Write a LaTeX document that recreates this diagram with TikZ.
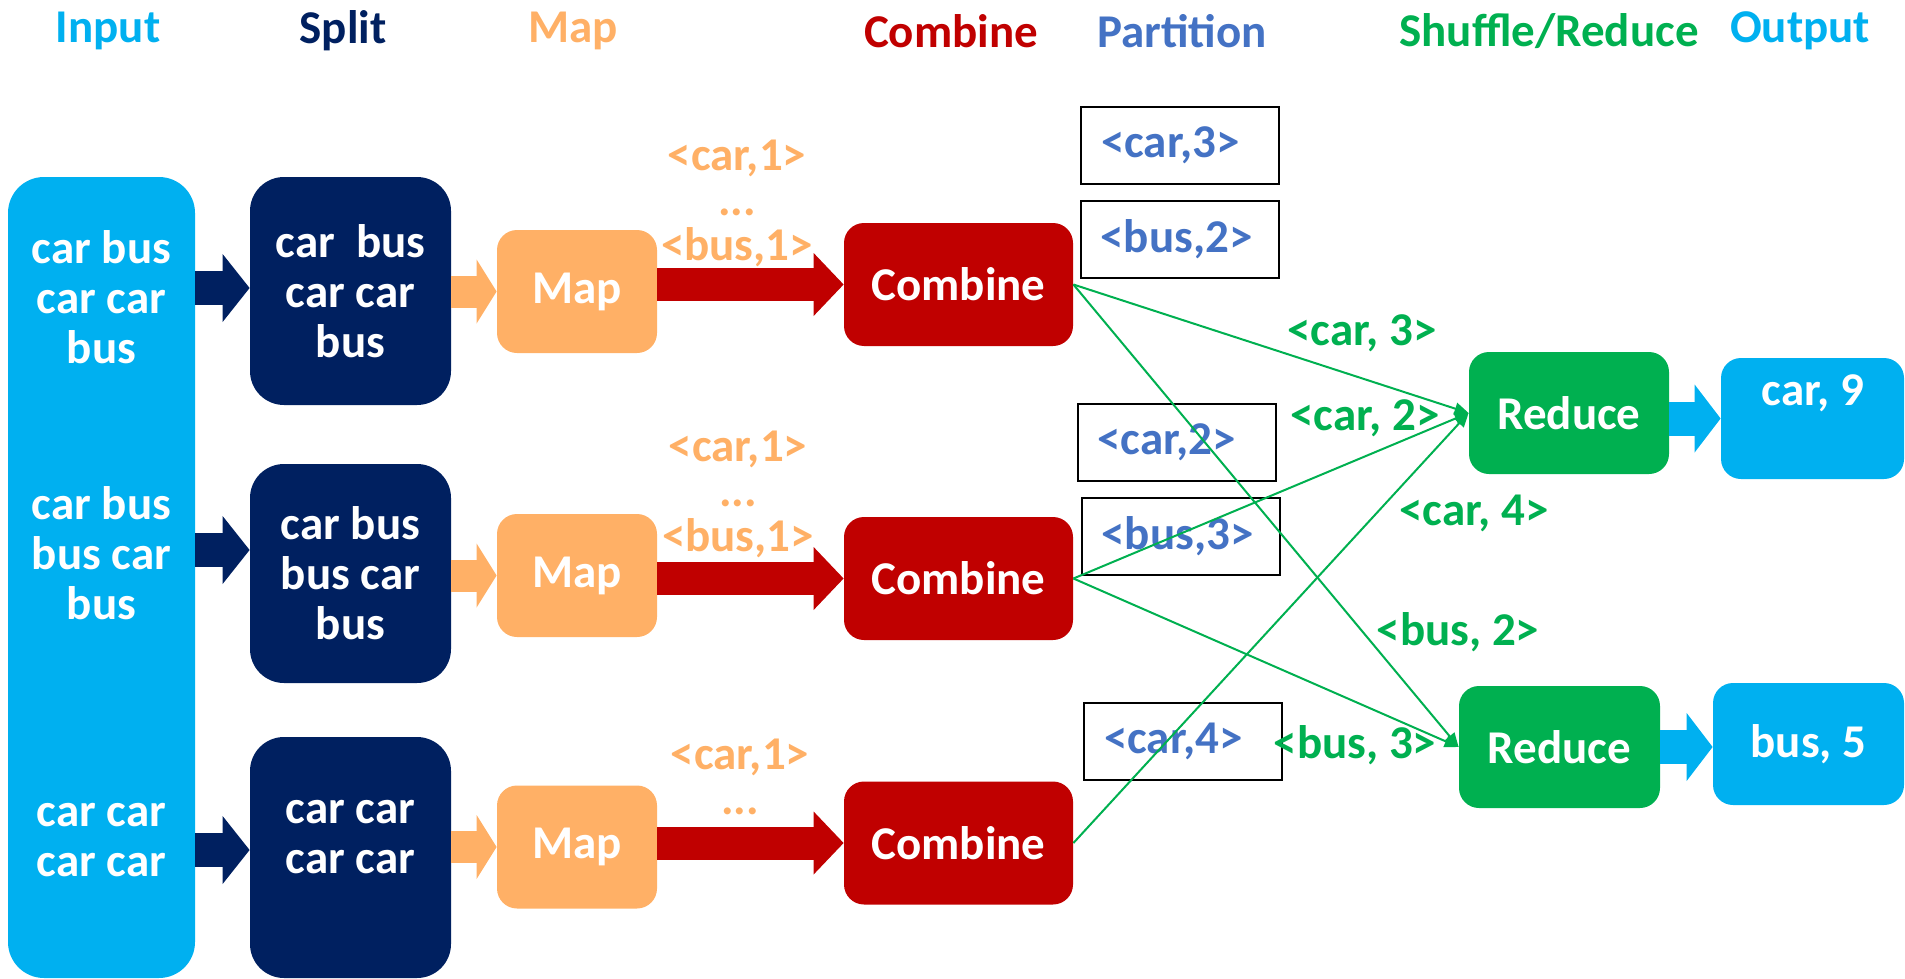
\documentclass[tikz,border=0pt]{standalone}
\usepackage{fontspec}
\setmainfont{Carlito}
\usetikzlibrary{arrows.meta}
\definecolor{inblue}{HTML}{00B0F0}
\definecolor{splitblue}{HTML}{002060}
\definecolor{maporange}{HTML}{FFB066}
\definecolor{combred}{HTML}{C00000}
\definecolor{partblue}{HTML}{4472C4}
\definecolor{redgreen}{HTML}{00B050}
\tikzset{
  blkarrow/.style n args={4}{draw=#1, line width=#2, -{Triangle[length=#3, width=#4, line width=0pt]}}
}
\begin{document}
\begin{tikzpicture}[x=0.5pt, y=-0.5pt,
    font=\fontsize{23.5}{25}\selectfont\bfseries,
    box/.style={rounded corners=10pt, inner sep=0pt, text=white, align=center},
    txt/.style={inner sep=0pt, align=center},
    kv/.style={txt, text=maporange, font=\fontsize{23.5}{22.5}\selectfont\bfseries},
    partbox/.style={draw=black, line width=1pt, text=partblue, minimum width=99pt, minimum height=38.5pt,
      inner xsep=10pt, text width=79pt, align=left},
    shuf/.style={draw=redgreen, line width=1pt, -{Triangle[length=7pt, width=6pt]}}]
  \useasboundingbox (0,0) rectangle (1905,979);
  \node[txt, text=inblue] (tinput) at (108,31) {Input};
  \node[txt, text=splitblue] (tsplit) at (343,31) {Split};
  \node[txt, text=maporange] (tmap) at (573,31) {Map};
  \node[txt, text=combred] (tcomb) at (951,31) {Combine};
  \node[txt, text=partblue] (tpart) at (1182,31) {Partition};
  \node[txt, text=redgreen] (tshuf) at (1549,31) {Shuffle/Reduce};
  \node[txt, text=inblue] (tout) at (1800,31) {Output};

  \node[box, fill=inblue, rounded corners=18pt, minimum width=93.5pt, minimum height=400.5pt] (input) at (101.5,577.5) {};
  \node[txt, text=white] (in1) at (101.5,297) {car bus\\car car\\bus};
  \node[txt, text=white] (in2) at (101.5,553) {car bus\\bus car\\bus};
  \node[txt, text=white] (in3) at (101.5,840) {car car\\car car};

  \node[box, fill=splitblue, rounded corners=17pt, minimum width=100.5pt, minimum height=114pt] (split1) at (350.5,291) {car~ bus\\car car\\bus};
  \node[box, fill=splitblue, rounded corners=17pt, minimum width=100.5pt, minimum height=109.5pt] (split2) at (350.5,573.5) {car bus\\bus car\\bus};
  \node[box, fill=splitblue, rounded corners=17pt, minimum width=100.5pt, minimum height=120.5pt] (split3) at (350.5,857.5) {};
  \node[txt, text=white] (sp3) at (350.5,837) {car car\\car car};

  \foreach \i/\y in {1/291.5, 2/575.5, 3/847}
    \node[box, fill=maporange, minimum width=80pt, minimum height=61.5pt] (map\i) at (577,\y) {Map};
  \foreach \i/\y in {1/284.5, 2/578.5, 3/843}
    \node[box, fill=combred, minimum width=114.5pt, minimum height=61.5pt] (comb\i) at (958.5,\y) {Combine};

  \node[kv] (kv1) at (737,203) {<car,1>\\...\\<bus,1>};
  \node[kv] (kv2) at (738,494) {<car,1>\\...\\<bus,1>};
  \node[kv] (kv3) at (740,777) {<car,1>\\...};

  \node[partbox] (part1) at (1180,145.5) {<car,3>};
  \node[partbox] (part2) at (1179.5,239.5) {<bus,2>};
  \node[partbox] (part3) at (1176.5,442) {<car,2>};
  \node[partbox] (part4) at (1180.5,536) {<bus,3>};
  \node[partbox] (part5) at (1183,741) {<car,4>};

  \node[box, fill=redgreen, minimum width=100pt, minimum height=61pt] (red1) at (1569,413) {Reduce};
  \node[box, fill=redgreen, minimum width=100.5pt, minimum height=61pt] (red2) at (1559.5,747) {Reduce};
  \node[box, fill=inblue, minimum width=91.5pt, minimum height=60.5pt] (out1) at (1812.5,418.5) {};
  \node[txt, text=white] (res1) at (1813,393) {car, 9};
  \node[box, fill=inblue, minimum width=95.5pt, minimum height=61pt] (out2) at (1808.5,744) {bus, 5};

  \coordinate (r1) at (0,288);
  \coordinate (r2) at (0,550);
  \coordinate (r3) at (0,850);
  \foreach \i in {1,2,3} {
    \draw[blkarrow={splitblue}{17pt}{13.5pt}{34pt}] (input.east |- r\i) -- (split\i.west |- r\i);
    \draw[blkarrow={maporange}{16pt}{10pt}{32pt}] (split\i.east |- map\i) -- (map\i.west);
    \draw[blkarrow={combred}{16.5pt}{15pt}{31.5pt}] (map\i.east |- comb\i) -- (comb\i.west);
  }
  \draw[blkarrow={inblue}{17pt}{13pt}{34pt}] (red1.east |- out1) -- (out1.west);
  \draw[blkarrow={inblue}{17pt}{13pt}{34pt}] (red2.east) -- (red2.east -| out2.west);

  \draw[shuf] (comb1.east) -- (red1.west);
  \draw[shuf] (comb1.east) -- (red2.west);
  \draw[shuf] (comb2.east) -- (red1.west);
  \draw[shuf] (comb2.east) -- (red2.west);
  \draw[shuf] (comb3.east) -- (red1.west);

  \node[txt, text=redgreen] (sh1) at (1362,333) {<car, 3>};
  \node[txt, text=redgreen] (sh2) at (1365,418) {<car, 2>};
  \node[txt, text=redgreen] (sh3) at (1474,513) {<car, 4>};
  \node[txt, text=redgreen] (sh4) at (1458,632) {<bus, 2>};
  \node[txt, text=redgreen] (sh5) at (1355,745) {<bus, 3>};
\end{tikzpicture}
\end{document}
